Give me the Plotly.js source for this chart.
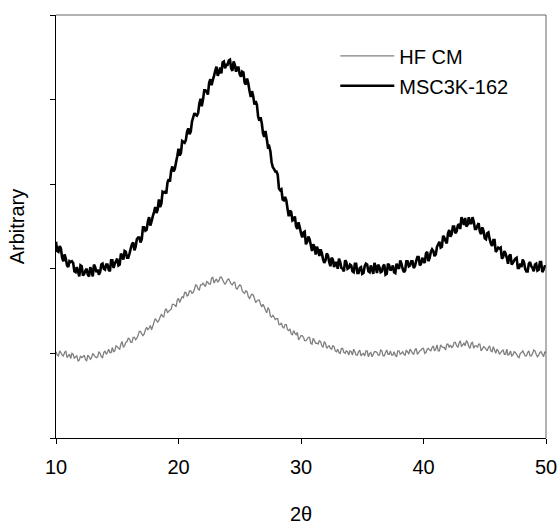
<!DOCTYPE html>
<html>
<head>
<meta charset="utf-8">
<script src="https://cdn.plot.ly/plotly-3.0.1.min.js"></script>
<style>html,body{margin:0;padding:0;background:#fff;}#chart{width:560px;height:525px;}</style>
</head>
<body>
<div id="chart"></div>
<script>
// 2-theta scan positions (degrees), even steps
const twoTheta = [10.0,10.2,10.4,10.6,10.8,11.0,11.2,11.4,11.6,11.8,12.0,12.2,12.4,12.6,12.8,13.0,13.2,13.4,13.6,13.8,
14.0,14.2,14.4,14.6,14.8,15.0,15.2,15.4,15.6,15.8,16.0,16.2,16.4,16.6,16.8,17.0,17.2,17.4,17.6,17.8,
18.0,18.2,18.4,18.6,18.8,19.0,19.2,19.4,19.6,19.8,20.0,20.2,20.4,20.6,20.8,21.0,21.2,21.4,21.6,21.8,
22.0,22.2,22.4,22.6,22.8,23.0,23.2,23.4,23.6,23.8,24.0,24.2,24.4,24.6,24.8,25.0,25.2,25.4,25.6,25.8,
26.0,26.2,26.4,26.6,26.8,27.0,27.2,27.4,27.6,27.8,28.0,28.2,28.4,28.6,28.8,29.0,29.2,29.4,29.6,29.8,
30.0,30.2,30.4,30.6,30.8,31.0,31.2,31.4,31.6,31.8,32.0,32.2,32.4,32.6,32.8,33.0,33.2,33.4,33.6,33.8,
34.0,34.2,34.4,34.6,34.8,35.0,35.2,35.4,35.6,35.8,36.0,36.2,36.4,36.6,36.8,37.0,37.2,37.4,37.6,37.8,
38.0,38.2,38.4,38.6,38.8,39.0,39.2,39.4,39.6,39.8,40.0,40.2,40.4,40.6,40.8,41.0,41.2,41.4,41.6,41.8,
42.0,42.2,42.4,42.6,42.8,43.0,43.2,43.4,43.6,43.8,44.0,44.2,44.4,44.6,44.8,45.0,45.2,45.4,45.6,45.8,
46.0,46.2,46.4,46.6,46.8,47.0,47.2,47.4,47.6,47.8,48.0,48.2,48.4,48.6,48.8,49.0,49.2,49.4,49.6,49.8,50.0];

// 2-theta scan positions (degrees), odd steps
const twoThetaMid = [10.1,10.3,10.5,10.7,10.9,11.1,11.3,11.5,11.7,11.9,12.1,12.3,12.5,12.7,12.9,13.1,13.3,13.5,13.7,13.9,
14.1,14.3,14.5,14.7,14.9,15.1,15.3,15.5,15.7,15.9,16.1,16.3,16.5,16.7,16.9,17.1,17.3,17.5,17.7,17.9,
18.1,18.3,18.5,18.7,18.9,19.1,19.3,19.5,19.7,19.9,20.1,20.3,20.5,20.7,20.9,21.1,21.3,21.5,21.7,21.9,
22.1,22.3,22.5,22.7,22.9,23.1,23.3,23.5,23.7,23.9,24.1,24.3,24.5,24.7,24.9,25.1,25.3,25.5,25.7,25.9,
26.1,26.3,26.5,26.7,26.9,27.1,27.3,27.5,27.7,27.9,28.1,28.3,28.5,28.7,28.9,29.1,29.3,29.5,29.7,29.9,
30.1,30.3,30.5,30.7,30.9,31.1,31.3,31.5,31.7,31.9,32.1,32.3,32.5,32.7,32.9,33.1,33.3,33.5,33.7,33.9,
34.1,34.3,34.5,34.7,34.9,35.1,35.3,35.5,35.7,35.9,36.1,36.3,36.5,36.7,36.9,37.1,37.3,37.5,37.7,37.9,
38.1,38.3,38.5,38.7,38.9,39.1,39.3,39.5,39.7,39.9,40.1,40.3,40.5,40.7,40.9,41.1,41.3,41.5,41.7,41.9,
42.1,42.3,42.5,42.7,42.9,43.1,43.3,43.5,43.7,43.9,44.1,44.3,44.5,44.7,44.9,45.1,45.3,45.5,45.7,45.9,
46.1,46.3,46.5,46.7,46.9,47.1,47.3,47.5,47.7,47.9,48.1,48.3,48.5,48.7,48.9,49.1,49.3,49.5,49.7,49.9];

// HF CM intensity at twoTheta
const hfcm = [1.02,0.97,1.01,0.97,1.03,0.97,0.94,0.99,0.96,0.91,0.97,0.96,0.93,0.98,0.93,1.00,0.96,0.96,1.00,0.95,
1.03,1.01,1.01,1.07,1.03,1.08,1.05,1.14,1.09,1.14,1.17,1.13,1.19,1.18,1.26,1.23,1.23,1.31,1.30,1.28,
1.37,1.39,1.39,1.46,1.43,1.53,1.50,1.52,1.58,1.55,1.65,1.64,1.66,1.72,1.69,1.74,1.72,1.81,1.76,1.81,
1.83,1.79,1.84,1.82,1.90,1.86,1.84,1.90,1.87,1.82,1.87,1.85,1.81,1.84,1.76,1.81,1.74,1.71,1.73,1.65,
1.70,1.65,1.62,1.63,1.55,1.55,1.48,1.52,1.43,1.43,1.41,1.34,1.36,1.30,1.34,1.27,1.23,1.27,1.22,1.16,
1.21,1.19,1.15,1.19,1.12,1.18,1.12,1.11,1.14,1.07,1.12,1.08,1.06,1.09,1.03,1.05,1.00,1.06,1.00,1.02,
1.03,0.98,1.02,0.98,1.04,0.99,0.97,1.03,1.00,0.96,1.02,1.01,0.98,1.03,0.97,1.04,0.99,0.98,1.02,0.96,
1.03,1.00,0.99,1.04,0.99,1.03,0.99,1.06,1.01,1.04,1.06,1.01,1.06,1.03,1.09,1.05,1.03,1.10,1.07,1.04,
1.11,1.10,1.08,1.13,1.07,1.15,1.10,1.09,1.13,1.06,1.13,1.09,1.07,1.11,1.05,1.07,1.03,1.09,1.02,1.04,
1.05,0.99,1.03,0.99,1.05,0.99,0.97,1.02,0.99,0.95,1.01,1.00,0.97,1.03,0.97,1.04,0.99,0.98,1.02,0.96,1.00];

// HF CM intensity at twoThetaMid
const hfcmMid = [0.98,1.03,0.98,1.01,0.95,0.99,1.00,0.94,0.97,0.92,0.95,0.98,0.91,0.96,0.95,0.98,0.95,1.02,0.96,1.01,
0.99,1.05,1.01,1.02,1.09,1.06,1.11,1.07,1.13,1.18,1.13,1.19,1.16,1.21,1.26,1.21,1.28,1.28,1.33,1.32,
1.41,1.37,1.43,1.44,1.51,1.48,1.51,1.58,1.57,1.63,1.60,1.67,1.72,1.68,1.74,1.71,1.76,1.80,1.75,1.81,
1.81,1.85,1.82,1.89,1.83,1.88,1.86,1.90,1.84,1.84,1.88,1.82,1.84,1.77,1.79,1.80,1.72,1.74,1.67,1.68,
1.69,1.60,1.63,1.58,1.58,1.51,1.54,1.44,1.45,1.40,1.41,1.34,1.31,1.34,1.28,1.29,1.22,1.24,1.25,1.18,
1.21,1.15,1.17,1.19,1.11,1.15,1.12,1.15,1.09,1.14,1.06,1.09,1.05,1.08,1.02,1.01,1.06,1.01,1.03,0.98,
1.02,1.05,0.98,1.02,0.97,1.00,1.03,0.96,1.01,0.99,1.02,0.98,1.04,0.97,1.01,0.99,1.03,0.98,0.98,1.03,
0.99,1.02,0.98,1.02,1.05,1.00,1.04,0.99,1.03,1.06,1.00,1.05,1.04,1.07,1.03,1.10,1.03,1.08,1.07,1.11,
1.07,1.07,1.13,1.09,1.12,1.08,1.12,1.15,1.08,1.12,1.06,1.09,1.11,1.03,1.08,1.05,1.07,1.03,1.08,1.00,
1.03,1.01,1.04,0.99,0.98,1.03,0.98,1.01,0.96,1.00,1.03,0.97,1.01,0.97,1.00,1.03,0.96,1.01,0.99,1.02];

// MSC3K-162 intensity at twoTheta
const msc3k = [2.32,2.20,2.24,2.09,2.12,2.02,2.08,2.07,1.96,1.97,2.04,1.92,1.98,1.93,2.02,1.91,2.02,1.99,1.96,2.06,
1.99,2.05,1.97,2.10,2.06,2.12,2.05,2.15,2.21,2.13,2.18,2.29,2.22,2.35,2.37,2.35,2.49,2.46,2.61,2.56,
2.67,2.66,2.82,2.77,2.90,2.89,3.06,3.16,3.15,3.26,3.42,3.37,3.50,3.52,3.66,3.62,3.79,3.82,3.84,4.01,
4.00,4.11,4.06,4.24,4.23,4.34,4.28,4.38,4.44,4.37,4.41,4.47,4.34,4.41,4.38,4.30,4.33,4.20,4.25,4.10,
4.10,3.94,3.94,3.75,3.72,3.56,3.54,3.45,3.26,3.18,3.15,2.95,2.94,2.81,2.81,2.62,2.67,2.58,2.50,2.55,
2.42,2.43,2.29,2.38,2.28,2.29,2.17,2.22,2.23,2.11,2.10,2.16,2.03,2.11,2.07,2.00,2.08,2.00,2.10,2.00,
2.05,1.97,2.06,1.95,2.01,1.94,2.03,2.05,1.96,1.99,2.07,1.95,2.02,1.97,2.05,1.94,2.04,2.00,1.96,2.06,
2.00,2.06,1.96,2.09,2.03,2.09,2.01,2.09,2.14,2.06,2.09,2.18,2.09,2.20,2.21,2.17,2.29,2.25,2.39,2.33,
2.42,2.38,2.50,2.42,2.51,2.47,2.57,2.60,2.52,2.54,2.61,2.47,2.51,2.44,2.49,2.36,2.42,2.35,2.27,2.34,
2.22,2.24,2.12,2.21,2.13,2.15,2.05,2.10,2.13,2.01,2.02,2.08,1.97,2.06,2.03,1.97,2.06,1.99,2.08,1.99,2.03];

// MSC3K-162 intensity at twoThetaMid
const msc3kMid = [2.21,2.27,2.13,2.17,2.04,2.09,2.09,1.97,2.02,1.91,2.03,1.94,2.00,1.91,1.98,2.05,1.96,1.93,2.05,2.00,
2.05,1.99,2.10,2.01,2.09,2.04,2.18,2.11,2.20,2.13,2.24,2.31,2.26,2.37,2.31,2.49,2.45,2.56,2.51,2.62,
2.73,2.70,2.73,2.91,2.91,3.02,3.03,3.21,3.18,3.33,3.34,3.51,3.49,3.62,3.59,3.74,3.84,3.81,3.95,3.92,
4.11,4.09,4.20,4.17,4.28,4.39,4.32,4.31,4.45,4.41,4.46,4.37,4.45,4.33,4.38,4.27,4.32,4.18,4.19,4.03,
4.04,3.98,3.80,3.79,3.60,3.63,3.44,3.39,3.20,3.15,3.11,2.93,2.82,2.85,2.71,2.69,2.57,2.62,2.47,2.49,
2.37,2.44,2.32,2.35,2.21,2.26,2.26,2.15,2.19,2.07,2.18,2.08,2.13,2.02,2.07,2.12,2.01,1.97,2.08,2.01,
2.04,1.96,2.06,1.95,2.02,1.95,2.06,1.97,2.04,1.94,2.02,2.05,1.96,2.03,1.93,2.06,1.98,2.04,1.95,2.02,
2.10,2.00,1.98,2.09,2.04,2.09,2.03,2.14,2.04,2.13,2.07,2.20,2.13,2.23,2.15,2.26,2.32,2.26,2.37,2.30,
2.46,2.41,2.50,2.44,2.53,2.61,2.52,2.50,2.61,2.54,2.56,2.47,2.54,2.41,2.45,2.35,2.43,2.30,2.34,2.20,
2.25,2.25,2.14,2.18,2.06,2.17,2.07,2.12,2.01,2.06,2.11,2.00,1.97,2.08,2.01,2.05,1.98,2.08,1.96,2.03];

const seriesNames = ["HF CM", "MSC3K-162"];
const xTickVals = [10, 20, 30, 40, 50];
const yTickVals = [0, 1, 2, 3, 4, 5];

// merge even and odd scan steps into one ordered scan
function mergeScan(xa, ya, xb, yb) {
  const x = [], y = [];
  for (let i = 0; i < xa.length; i++) {
    x.push(xa[i]); y.push(ya[i]);
    if (i < xb.length) { x.push(xb[i]); y.push(yb[i]); }
  }
  return {x, y};
}
const hf = mergeScan(twoTheta, hfcm, twoThetaMid, hfcmMid);
const ms = mergeScan(twoTheta, msc3k, twoThetaMid, msc3kMid);

const FONT = "Liberation Sans, Arial, Helvetica, sans-serif";

const traces = [
  {x: hf.x, y: hf.y, name: seriesNames[0], type: "scatter", mode: "lines",
   line: {color: "#808080", width: 1.3, simplify: false}, legendgroup: "a"},
  {x: ms.x, y: ms.y, name: seriesNames[1], type: "scatter", mode: "lines",
   line: {color: "#000000", width: 2.6, simplify: false}, legendgroup: "b"}
];

const layout = {
  width: 560, height: 525,
  margin: {l: 56, r: 14, t: 15, b: 87, pad: 0},
  paper_bgcolor: "#ffffff", plot_bgcolor: "#ffffff",
  font: {family: FONT, size: 20, color: "#000"},
  showlegend: true,
  legend: {x: 0.570, y: 0.9496, xanchor: "left", yanchor: "top",
           bgcolor: "rgba(0,0,0,0)", borderwidth: 0, font: {family: FONT, size: 20, color: "#000"},
           traceorder: "grouped", tracegroupgap: 1, itemwidth: 54},
  xaxis: {range: [10, 50], tickvals: xTickVals, ticktext: xTickVals.map(String),
          ticks: "outside", ticklen: 5, tickwidth: 1, tickcolor: "#000", ticklabelstandoff: 6,
          showline: true, linecolor: "#000", linewidth: 1, mirror: false,
          showgrid: false, zeroline: false,
          tickfont: {family: FONT, size: 20, color: "#000"},
          title: {text: "2θ", font: {family: FONT, size: 20, color: "#000"}, standoff: 35}},
  yaxis: {range: [0, 5], tickvals: yTickVals, showticklabels: false,
          ticks: "outside", ticklen: 5, tickwidth: 1, tickcolor: "#000",
          showline: true, linecolor: "#000", linewidth: 1, mirror: false,
          showgrid: false, zeroline: false,
          title: {text: "Arbitrary", font: {family: FONT, size: 20, color: "#000"}, standoff: 20}},
  shapes: [
    {type: "line", xref: "paper", yref: "paper", x0: 0, x1: 1, y0: 1, y1: 1, line: {color: "#666", width: 1}},
    {type: "line", xref: "paper", yref: "paper", x0: 1, x1: 1, y0: 0, y1: 1, line: {color: "#666", width: 1}}
  ]
};

Plotly.newPlot("chart", traces, layout, {staticPlot: true, displayModeBar: false});
</script>
</body>
</html>
